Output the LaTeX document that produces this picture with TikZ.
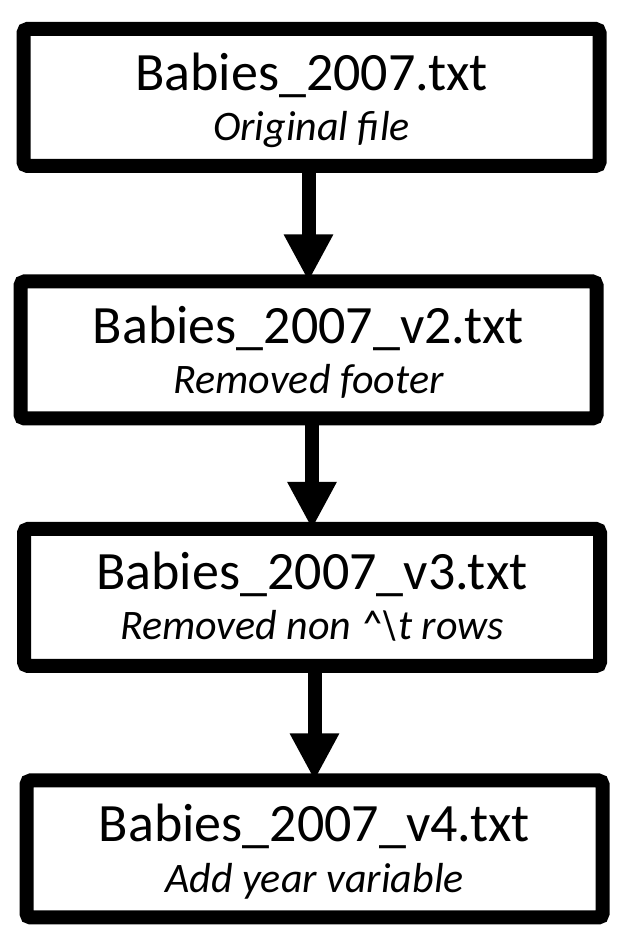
\documentclass[tikz,border=0pt]{standalone}
\usepackage{fontspec}
\setmainfont{Carlito}
\usepackage{xcolor}
\usepackage{tikz}
\usetikzlibrary{arrows.meta, positioning}
\tikzset{
  filebox/.style={draw=black, line width=14pt, rounded corners=4pt, fill=white, outer sep=0pt, minimum width=576pt, minimum height=137pt, inner sep=0pt},
  filename/.style={anchor=base, inner sep=0pt, font=\fontsize{54}{60}\selectfont},
  filenote/.style={anchor=base, inner sep=0pt, font=\fontsize{42}{48}\selectfont\itshape},
  flow/.style={line width=14pt, -{Triangle[length=47pt, width=46pt]}}
}

\begin{document}
\begin{tikzpicture}[x=1pt, y=1pt]
  \useasboundingbox (0,0) rectangle (621,933);
  \node[filebox] (v1) at (311.5,835.5) {};
  \node[filebox] (v2) at (308.5,583) {};
  \node[filebox] (v3) at (312,335.5) {};
  \node[filebox] (v4) at (314.5,84) {};
  \node[filename] (n1) at ([yshift=-62pt]v1.north) {Babies\_2007.txt};
  \node[filenote] (d1) at ([yshift=-112pt]v1.north) {Original file};
  \node[filename] (n2) at ([yshift=-62pt]v2.north) {Babies\_2007\_v2.txt};
  \node[filenote] (d2) at ([yshift=-112pt]v2.north) {Removed footer};
  \node[filename] (n3) at ([yshift=-61pt]v3.north) {Babies\_2007\_v3.txt};
  \node[filenote] (d3) at ([yshift=-111pt]v3.north) {Removed non \textasciicircum\textbackslash t rows};
  \node[filename] (n4) at ([yshift=-61pt]v4.north) {Babies\_2007\_v4.txt};
  \node[filenote] (d4) at ([yshift=-112pt]v4.north) {Add year variable};
  \draw[flow] (v1.south -| v2.north) -- (v2.north);
  \draw[flow] (v2.south -| v3.north) -- (v3.north);
  \draw[flow] (v3.south -| v4.north) -- (v4.north);
\end{tikzpicture}
\end{document}
